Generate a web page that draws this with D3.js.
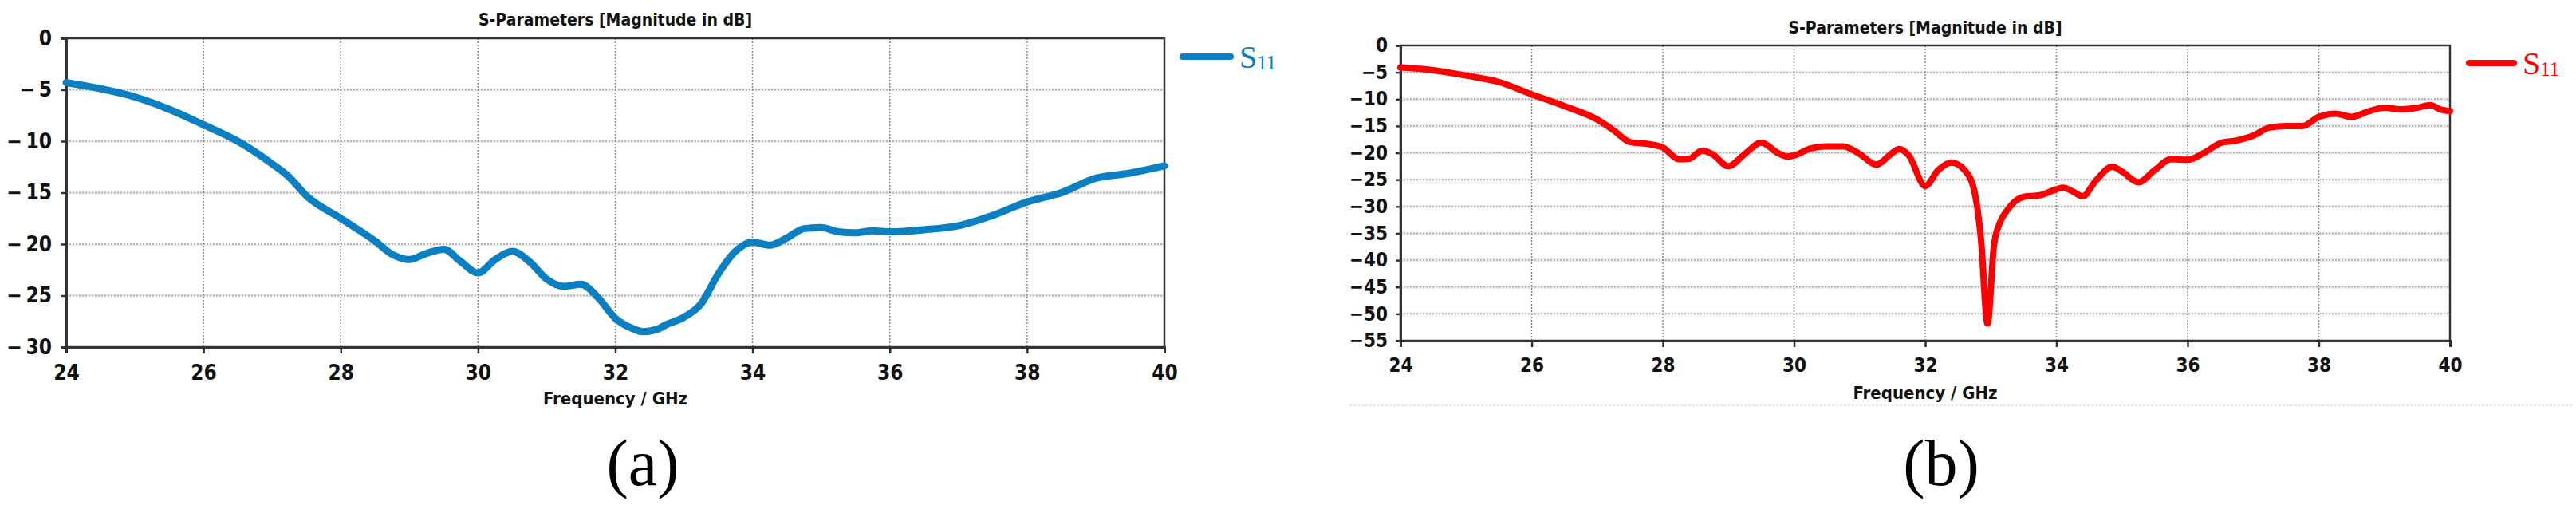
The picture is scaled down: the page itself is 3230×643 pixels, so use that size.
<html>
<head>
<script src="https://cdn.jsdelivr.net/npm/d3@7"></script>
<style>
  body { margin:0; padding:0; background:#fff; }
  .lbl { font-family: "DejaVu Sans Condensed", "DejaVu Sans", sans-serif; font-weight: bold; fill: #111; }
  .serif { font-family: "Liberation Serif", "DejaVu Serif", serif; }
</style>
</head>
<body>
<script>
var width = 3230;
var height = 643;

// shared axis stuff
var xTicks = [24, 26, 28, 30, 32, 34, 36, 38, 40];
var yTicksA = [0, -5, -10, -15, -20, -25, -30];
var yTicksB = [0, -5, -10, -15, -20, -25, -30, -35, -40, -45, -50, -55];
var titleText = "S-Parameters [Magnitude in dB]";
var xLabelText = "Frequency / GHz";

// (a) S11
var freqA = [24, 24.5, 25, 25.5, 26, 26.5, 27, 27.25, 27.5, 28, 28.5, 28.75, 29, 29.25, 29.5, 29.75,
             30, 30.25, 30.5, 30.75, 31, 31.25, 31.5, 31.75, 32, 32.25, 32.4, 32.6, 32.75, 33,
             33.25, 33.5, 33.75, 34, 34.25, 34.5, 34.75, 35, 35.25, 35.5, 35.75, 36, 36.5, 37,
             37.5, 38, 38.5, 39, 39.5, 40];
var s11A  = [-4.3, -4.9, -5.7, -6.9, -8.4, -10.0, -12.2, -13.5, -15.3, -17.5, -19.7, -21.0, -21.5, -20.9, -20.5, -21.7,
             -22.8, -21.5, -20.7, -21.7, -23.4, -24.1, -23.9, -25.2, -27.2, -28.2, -28.5, -28.3, -27.8, -27.1,
             -25.8, -22.9, -20.7, -19.8, -20.1, -19.4, -18.5, -18.4, -18.8, -18.9, -18.7, -18.8, -18.6, -18.2,
             -17.2, -15.9, -15.0, -13.6, -13.1, -12.4];

// (b) S11
var freqB = [24, 24.5, 25, 25.5, 26, 26.5, 27, 27.25, 27.5, 27.75, 28, 28.25, 28.4, 28.6, 28.75, 29,
             29.25, 29.5, 29.75, 29.9, 30, 30.25, 30.5, 30.75, 31, 31.25, 31.5, 31.6, 31.75, 32,
             32.2, 32.4, 32.6, 32.75, 32.85, 32.95, 33.05, 33.15, 33.25, 33.5, 33.75, 34, 34.1, 34.25,
             34.4, 34.6, 34.85, 35, 35.25, 35.5, 35.75, 36, 36.25, 36.5, 36.75, 37, 37.25, 37.5,
             37.75, 38, 38.25, 38.5, 38.75, 39, 39.25, 39.5, 39.7, 39.85, 40];
var s11B  = [-4.1, -4.6, -5.6, -6.8, -9.1, -11.3, -13.8, -15.8, -18.0, -18.3, -19.0, -21.2, -21.1, -19.6, -20.2, -22.5,
             -20.2, -18.1, -20.0, -20.7, -20.5, -19.2, -18.8, -18.8, -20.2, -22.2, -20.0, -19.3, -20.5, -26.2,
             -23.2, -21.8, -23.2, -27.2, -36.1, -51.8, -37.0, -32.7, -30.7, -28.2, -27.9, -26.8, -26.5, -27.2,
             -28.1, -25.2, -22.6, -23.5, -25.5, -23.2, -21.2, -21.3, -20.0, -18.2, -17.7, -16.8, -15.3, -15.0,
             -15.0, -13.3, -12.7, -13.3, -12.3, -11.6, -11.9, -11.6, -11.1, -11.9, -12.2];

var svg = d3.select("body").append("svg")
    .attr("width", width)
    .attr("height", height);

function fmtTick(gap) {
    return function(d) { return d == 0 ? "0" : "\u2212" + gap + Math.abs(d); };
}

function drawPanel(p) {
    var x = d3.scaleLinear().domain([24, 40]).range([p.left, p.right]);
    var y = d3.scaleLinear().domain([p.yMin, 0]).range([p.bottom, p.top]);
    var g = svg.append("g");

    // horizontal grid (light band + dots)
    var inner = p.yTicks.slice(1, -1);
    g.selectAll(".hband").data(inner).enter().append("line")
        .attr("x1", p.left).attr("x2", p.right)
        .attr("y1", function(d) { return y(d); }).attr("y2", function(d) { return y(d); })
        .attr("stroke", "#ececec").attr("stroke-width", 4);
    g.selectAll(".hgrid").data(inner).enter().append("line")
        .attr("x1", p.left).attr("x2", p.right)
        .attr("y1", function(d) { return y(d); }).attr("y2", function(d) { return y(d); })
        .attr("stroke", "#a8a8a8").attr("stroke-width", 1.5).attr("stroke-dasharray", "2,2");
    // vertical grid
    g.selectAll(".vgrid").data(xTicks.slice(1, -1)).enter().append("line")
        .attr("x1", function(d) { return x(d); }).attr("x2", function(d) { return x(d); })
        .attr("y1", p.top).attr("y2", p.bottom)
        .attr("stroke", "#888").attr("stroke-width", 1.5).attr("stroke-dasharray", "2,2");

    // frame
    g.append("rect")
        .attr("x", p.left).attr("y", p.top)
        .attr("width", p.right - p.left).attr("height", p.bottom - p.top)
        .attr("fill", "none").attr("stroke", "#333").attr("stroke-width", 2.5);

    var yAxis = g.append("g")
        .attr("transform", "translate(" + p.left + ",0)")
        .call(d3.axisLeft(y).tickValues(p.yTicks).tickSize(p.tickY).tickPadding(p.padY).tickFormat(fmtTick(p.gap)));
    var xAxis = g.append("g")
        .attr("transform", "translate(0," + p.bottom + ")")
        .call(d3.axisBottom(x).tickValues(xTicks).tickSize(8).tickFormat(d3.format("d")));

    [yAxis, xAxis].forEach(function(a) {
        a.select(".domain").attr("stroke", "#333").attr("stroke-width", 3);
        a.selectAll(".tick line").attr("stroke", "#333").attr("stroke-width", 2.5);
        a.selectAll("text").attr("class", "lbl").attr("fill", "#111")
            .style("font-size", p.tickFont + "px");
    });
    xAxis.selectAll("text").attr("dy", null).attr("y", p.xLabOff);

    // curve
    var pts = p.freq.map(function(f, i) { return [f, p.vals[i]]; });
    var line = d3.line()
        .x(function(d) { return x(d[0]); })
        .y(function(d) { return y(d[1]); })
        .curve(d3.curveMonotoneX);
    g.append("path").datum(pts)
        .attr("d", line)
        .attr("fill", "none")
        .attr("stroke", p.color)
        .attr("stroke-width", p.lineW)
        .attr("stroke-linecap", "round")
        .attr("stroke-linejoin", "round");

    // title + axis label
    var cx = (p.left + p.right) / 2;
    g.append("text").attr("class", "lbl")
        .attr("x", cx).attr("y", p.titleY)
        .attr("text-anchor", "middle")
        .style("font-size", "21px")
        .text(titleText);
    g.append("text").attr("class", "lbl")
        .attr("x", cx).attr("y", p.xTitleY)
        .attr("text-anchor", "middle")
        .style("font-size", "22px")
        .text(xLabelText);

    // legend
    g.append("line")
        .attr("x1", p.legX).attr("x2", p.legX + p.legLen)
        .attr("y1", p.legY).attr("y2", p.legY)
        .attr("stroke", p.color).attr("stroke-width", 8).attr("stroke-linecap", "round");
    var lt = g.append("text").attr("class", "serif")
        .attr("x", p.legX + p.legLen + 11).attr("y", p.legY + 14)
        .attr("fill", p.color)
        .style("font-size", "40px");
    lt.append("tspan").text("S");
    lt.append("tspan").attr("dy", 2).style("font-size", "25px").text("11");

    // caption
    svg.append("text").attr("class", "serif")
        .attr("x", p.capX).attr("y", 608)
        .attr("text-anchor", "middle")
        .attr("fill", "#000")
        .style("font-size", "82px")
        .text(p.caption);
}

drawPanel({
    left: 83, right: 1460, top: 48, bottom: 435,
    yMin: -30, yTicks: yTicksA, gap: "\u2009",
    tickY: 7, padY: 11, tickFont: 26, xLabOff: 41,
    freq: freqA, vals: s11A, color: "#0a80c3", lineW: 9,
    titleY: 32, xTitleY: 507,
    legX: 1483, legLen: 60, legY: 71,
    capX: 806, caption: "(a)"
});

drawPanel({
    left: 1756, right: 3072, top: 57, bottom: 427,
    yMin: -55, yTicks: yTicksB, gap: "",
    tickY: 6, padY: 10, tickFont: 24, xLabOff: 39,
    freq: freqB, vals: s11B, color: "#ff0000", lineW: 8,
    titleY: 42, xTitleY: 500,
    legX: 3096, legLen: 56, legY: 79,
    capX: 2434, caption: "(b)"
});

// faint dotted rule under panel (b)
svg.append("line")
    .attr("x1", 1692).attr("x2", 3225)
    .attr("y1", 508).attr("y2", 508)
    .attr("stroke", "#dcdcdc").attr("stroke-width", 1.5).attr("stroke-dasharray", "3,2");
</script>
</body>
</html>
